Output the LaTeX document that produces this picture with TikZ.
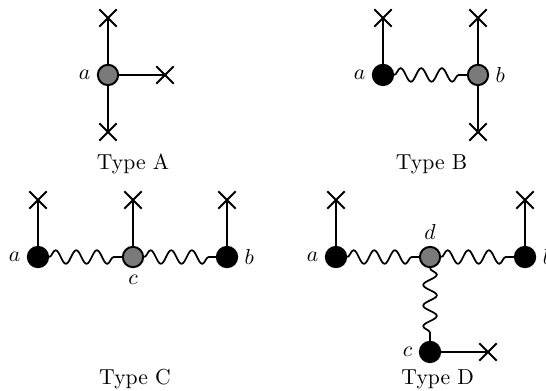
\documentclass[tikz,border=0pt]{standalone}
\usetikzlibrary{shapes.misc,decorations.pathmorphing}
\tikzset{
    vtx/.style={circle, draw, line width=0.9pt, inner sep=0pt, minimum size=0.33cm},
    full/.style={vtx, fill=black},
    shade/.style={vtx, fill=black!52},
    leaf/.style={cross out, draw, line width=0.9pt, inner sep=0pt, minimum size=0.25cm},
    wire/.style={line width=0.9pt},
    wavy/.style={line width=0.8pt, decorate, decoration={snake, segment length=0.335cm, amplitude=0.11cm, post length=0.02cm}},
    tag/.style={label distance=-0.5pt},
}
\begin{document}
\begin{tikzpicture}
    \useasboundingbox (0,0) rectangle (8.856,6.342);
    % Type A
    \node[shade, label={[tag]left:$a$}] (Aa) at (1.752,5.126) {};
    \node[leaf] (Ax1) at (1.752,6.051) {};
    \node[leaf] (Ax2) at (2.677,5.126) {};
    \node[leaf] (Ax3) at (1.752,4.201) {};
    \draw[wire] (Aa) -- (Ax1.center);
    \draw[wire] (Aa) -- (Ax2.center);
    \draw[wire] (Aa) -- (Ax3.center);
    \node (Atype) at (2.157,3.68) {Type A};
    % Type B
    \node[full, label={[tag]left:$a$}] (Ba) at (6.212,5.126) {};
    \node[shade, label={[tag]right:$b$}] (Bb) at (7.753,5.126) {};
    \node[leaf] (Bx1) at (6.212,6.051) {};
    \node[leaf] (Bx2) at (7.753,6.051) {};
    \node[leaf] (Bx3) at (7.753,4.201) {};
    \draw[wire] (Ba) -- (Bx1.center);
    \draw[wire] (Bb) -- (Bx2.center);
    \draw[wire] (Bb) -- (Bx3.center);
    \draw[wavy] (Ba) -- (Bb);
    \node (Btype) at (7.0,3.68) {Type B};
    % Type C
    \node[full, label={[tag]left:$a$}] (Ca) at (0.616,2.173) {};
    \node[shade, label={[tag]below:$c$}] (Cc) at (2.157,2.173) {};
    \node[full, label={[tag]right:$b$}] (Cb) at (3.682,2.173) {};
    \node[leaf] (Cx1) at (0.616,3.097) {};
    \node[leaf] (Cx2) at (2.157,3.097) {};
    \node[leaf] (Cx3) at (3.682,3.097) {};
    \draw[wire] (Ca) -- (Cx1.center);
    \draw[wire] (Cc) -- (Cx2.center);
    \draw[wire] (Cb) -- (Cx3.center);
    \draw[wavy] (Ca) -- (Cc);
    \draw[wavy] (Cc) -- (Cb);
    \node (Ctype) at (2.19,0.19) {Type C};
    % Type D
    \node[full, label={[tag]left:$a$}] (Da) at (5.450,2.173) {};
    \node[shade, label={[tag]above:$d$}] (Dd) at (6.975,2.173) {};
    \node[full, label={[tag]right:$b$}] (Db) at (8.516,2.173) {};
    \node[full, label={[tag]left:$c$}] (Dc) at (6.975,0.633) {};
    \node[leaf] (Dx1) at (5.450,3.097) {};
    \node[leaf] (Dx2) at (8.516,3.097) {};
    \node[leaf] (Dx3) at (7.916,0.633) {};
    \draw[wire] (Da) -- (Dx1.center);
    \draw[wire] (Db) -- (Dx2.center);
    \draw[wire] (Dc) -- (Dx3.center);
    \draw[wavy] (Da) -- (Dd);
    \draw[wavy] (Dd) -- (Db);
    \draw[wavy] (Dd) -- (Dc);
    \node (Dtype) at (7.1,0.19) {Type D};
\end{tikzpicture}
\end{document}
